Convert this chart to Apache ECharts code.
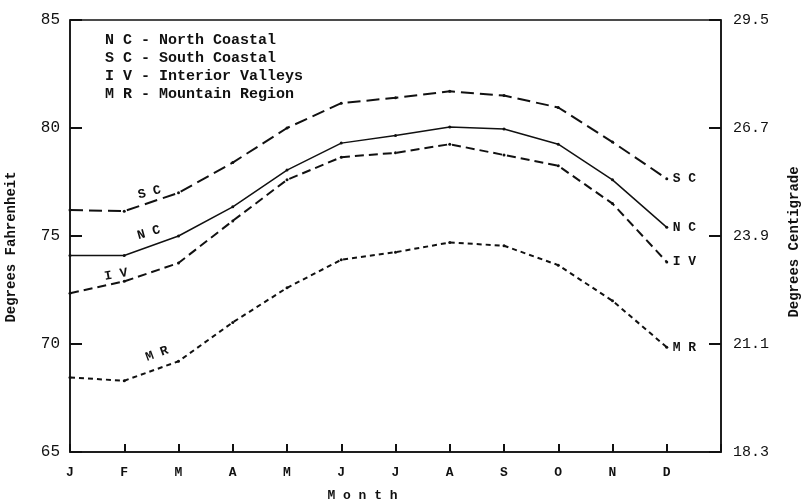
<!DOCTYPE html>
<html lang="en">
<head>
    <meta charset="UTF-8">
    <title>Monthly temperature by region</title>
    <script src="https://cdn.jsdelivr.net/npm/echarts@6/dist/echarts.min.js"></script>
    <style>
        html, body { margin: 0; padding: 0; background: #fff; }
        #main { width: 803px; height: 504px; }
    </style>
</head>
<body>
<div id="main"></div>
<script>
// months (last slot is empty so the axis runs one step past D)
var months = ['J', 'F', 'M', 'A', 'M', 'J', 'J', 'A', 'S', 'O', 'N', 'D', ''];
// degrees F
var sc = [76.2, 76.15, 77.0, 78.4, 80.0, 81.15, 81.4, 81.7, 81.5, 80.95, 79.35, 77.65];
var nc = [74.1, 74.1, 75.0, 76.35, 78.05, 79.3, 79.65, 80.05, 79.95, 79.25, 77.6, 75.4];
var iv = [72.35, 72.9, 73.75, 75.7, 77.6, 78.65, 78.85, 79.25, 78.75, 78.25, 76.5, 73.8];
var mr = [68.45, 68.3, 69.2, 71.0, 72.6, 73.9, 74.25, 74.7, 74.55, 73.65, 72.0, 69.85];
// right axis tick labels
var celsius = ['18.3', '21.1', '23.9', '26.7', '29.5'];
var legendLines = ['N C - North Coastal', 'S C - South Coastal', 'I V - Interior Valleys', 'M R - Mountain Region'];

var FONT = '"Liberation Mono", "DejaVu Sans Mono", monospace';
var INK = '#111';

// put a tilted label on the F point of a series
function withLabel(values, text, offset, rot) {
    var data = values.slice();
    data[1] = {
        value: values[1],
        label: {
            show: true, formatter: text, position: 'inside', offset: offset, rotate: rot,
            color: INK, fontFamily: FONT, fontWeight: 'bold', fontSize: 13
        }
    };
    return data;
}

function makeSeries(name, values, dash, width, tag, offset, rot) {
    return {
        name: name,
        type: 'line',
        data: withLabel(values, tag, offset, rot),
        symbol: 'circle',
        symbolSize: 3,
        itemStyle: { color: INK },
        lineStyle: { color: INK, width: width, type: dash },
        endLabel: {
            show: true, formatter: tag, distance: 6,
            color: INK, fontFamily: FONT, fontWeight: 'bold', fontSize: 13
        },
        animation: false
    };
}

var chartDom = document.getElementById('main');
var myChart = echarts.init(chartDom);
var option = {
    backgroundColor: '#fff',
    grid: {
        left: 70, right: 82, top: 20, bottom: 52,
        outerBoundsMode: 'none',
        show: true, borderColor: INK, borderWidth: 1.5
    },
    xAxis: {
        type: 'category',
        data: months,
        boundaryGap: false,
        axisLine: { lineStyle: { color: INK, width: 1.5 } },
        axisTick: { inside: true, length: 8, alignWithLabel: true, interval: 0, lineStyle: { color: INK, width: 2 } },
        axisLabel: { interval: 0, margin: 14, color: INK, fontFamily: FONT, fontWeight: 'bold', fontSize: 13 },
        splitLine: { show: false },
        name: 'M o n t h',
        nameLocation: 'middle',
        nameGap: 37,
        nameTextStyle: { color: INK, fontFamily: FONT, fontWeight: 'bold', fontSize: 13, padding: [0, 66, 0, 0] }
    },
    yAxis: [
        {
            type: 'value', position: 'left', min: 65, max: 85, interval: 5,
            axisLine: { show: true, lineStyle: { color: INK, width: 1.5 } },
            axisTick: { show: true, inside: true, length: 12, lineStyle: { color: INK, width: 2 } },
            axisLabel: { margin: 10, color: INK, fontFamily: FONT, fontSize: 16 },
            splitLine: { show: false },
            name: 'Degrees Fahrenheit',
            nameLocation: 'middle',
            nameRotate: 90,
            nameGap: 52,
            nameTextStyle: { color: INK, fontFamily: FONT, fontWeight: 'bold', fontSize: 14, padding: [0, 22, 0, 0] }
        },
        {
            type: 'value', position: 'right', min: 65, max: 85, interval: 5,
            axisLine: { show: true, lineStyle: { color: INK, width: 1.5 } },
            axisTick: { show: true, inside: true, length: 12, lineStyle: { color: INK, width: 2 } },
            axisLabel: {
                margin: 12, color: INK, fontFamily: FONT, fontSize: 15,
                formatter: function (v) { return celsius[Math.round((v - 65) / 5)]; }
            },
            splitLine: { show: false },
            name: 'Degrees Centigrade',
            nameLocation: 'middle',
            nameRotate: 90,
            nameGap: 66,
            nameTextStyle: { color: INK, fontFamily: FONT, fontWeight: 'bold', fontSize: 14, padding: [0, 12, 0, 0] }
        }
    ],
    graphic: [{
        type: 'text',
        left: 105,
        top: 31,
        style: {
            text: legendLines.join('\n'),
            fill: INK,
            font: 'bold 15px ' + FONT,
            lineHeight: 18
        }
    }],
    series: [
        makeSeries('South Coastal', sc, [13, 6], 2, 'S C', [29, -12], 14),
        makeSeries('North Coastal', nc, 'solid', 1.5, 'N C', [30, -15], 16),
        makeSeries('Interior Valleys', iv, [9, 5], 2, 'I V', [-7, -8], 10),
        makeSeries('Mountain Region', mr, [5, 4], 2, 'M R', [40, -14], 20)
    ]
};
myChart.setOption(option);
</script>
</body>
</html>
